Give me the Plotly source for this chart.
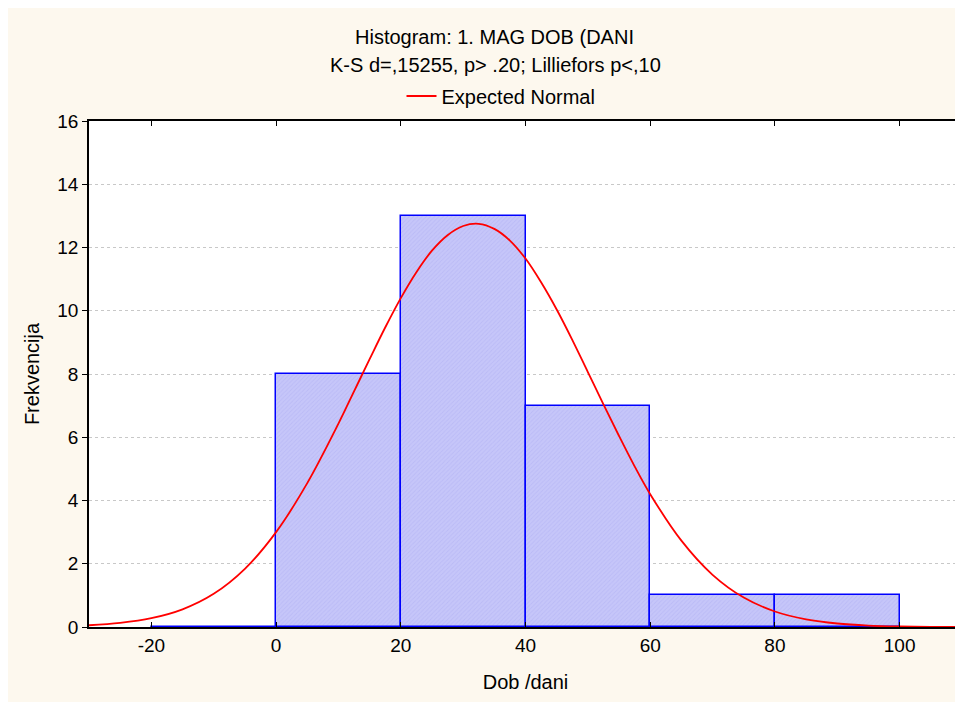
import plotly.graph_objects as go

# Histogram bins (left edges, width 20) and counts
bin_left = [-20, 0, 20, 40, 60, 80]
bin_width = 20
counts = [0, 8, 13, 7, 1, 1]

# Expected normal curve
curve_x = [-30, -25, -20, -15, -10, -5, 0, 5, 10, 12.5, 15, 17.5, 20, 22.5, 25, 27.5,
           30, 32.5, 35, 37.5, 40, 42.5, 45, 47.5, 50, 52.5, 55, 57.5, 60, 65, 70,
           75, 80, 85, 90, 95, 100, 105, 110]
curve_y = [0.055, 0.13, 0.28, 0.56, 1.05, 1.84, 3.0, 4.55, 6.43, 7.45, 8.47, 9.47,
           10.4, 11.22, 11.9, 12.39, 12.68, 12.75, 12.59, 12.22, 11.65, 10.9, 10.04,
           9.08, 8.06, 7.04, 6.04, 5.08, 4.2, 2.73, 1.65, 0.93, 0.49, 0.24, 0.11,
           0.046, 0.018, 0.007, 0.002]

x_ticks = [-20, 0, 20, 40, 60, 80, 100]
y_ticks = [0, 2, 4, 6, 8, 10, 12, 14, 16]

title_line1 = "Histogram: 1. MAG DOB (DANI"
title_line2 = "K-S d=,15255, p> .20; Lilliefors p<,10"
x_title = "Dob /dani"
y_title = "Frekvencija"

FONT = "Liberation Sans, Arial, sans-serif"
OFF = 8  # page body margin
W, H = 963 - OFF, 702 - OFF
PLOT_L, PLOT_T, PLOT_B, PLOT_R = 89 - OFF, 121 - OFF, 627 - OFF, 962 - OFF
PH = PLOT_B - PLOT_T
PW = PLOT_R - PLOT_L


def py(pix):
    return (PLOT_B - (pix - OFF)) / PH


def px(pix):
    return ((pix - OFF) - PLOT_L) / PW


fig = go.Figure()
fig.add_trace(go.Bar(
    x=[l + bin_width / 2 for l in bin_left],
    y=counts,
    width=bin_width,
    marker=dict(
        color="#C2C2F8",
        line=dict(color="#0000FF", width=1.5),
        pattern=dict(shape="/", fgcolor="#B0B0F2", bgcolor="#C6C6F9", size=3, solidity=0.3),
    ),
    showlegend=False,
    hoverinfo="skip",
))
fig.add_trace(go.Scatter(
    x=curve_x, y=curve_y, mode="lines",
    line=dict(color="#FF0000", width=1.8, shape="spline", smoothing=1.0),
    name="Expected Normal",
))

fig.update_layout(
    width=W, height=H,
    margin=dict(l=PLOT_L, r=W - PLOT_R, t=PLOT_T, b=H - PLOT_B, autoexpand=False),
    paper_bgcolor="#FDF8EE",
    plot_bgcolor="#FFFFFF",
    font=dict(family=FONT, size=20, color="#000000"),
    bargap=0,
    showlegend=True,
    legend=dict(
        orientation="h", x=px(501), xanchor="center", y=py(96), yanchor="middle",
        bgcolor="rgba(0,0,0,0)", font=dict(size=20), itemwidth=30,
    ),
    annotations=[
        dict(text=title_line1, xref="paper", yref="paper", x=px(494), y=py(37),
             xanchor="center", yanchor="middle", showarrow=False, font=dict(size=20)),
        dict(text=title_line2, xref="paper", yref="paper", x=px(495), y=py(65),
             xanchor="center", yanchor="middle", showarrow=False, font=dict(size=20)),
    ],
)
fig.update_xaxes(
    range=[-30, 110], tickvals=x_ticks, ticktext=[str(v) for v in x_ticks],
    showgrid=False, zeroline=False,
    showline=True, linecolor="#000000", linewidth=1.5, mirror="ticks",
    ticks="inside", ticklen=5, tickcolor="#000000",
    title=dict(text=x_title, standoff=20, font=dict(size=20)),
    tickfont=dict(size=19),
)
fig.update_yaxes(
    range=[0, 16], tickvals=y_ticks, ticktext=[str(v) for v in y_ticks],
    showgrid=True, gridcolor="#C8C8C8", griddash="dot", gridwidth=1,
    zeroline=False,
    showline=True, linecolor="#000000", linewidth=1.5, mirror=True,
    ticks="outside", ticklen=5, tickcolor="#000000",
    title=dict(text=y_title, standoff=12, font=dict(size=20)),
    tickfont=dict(size=19),
)

fig.write_html("out.html")
